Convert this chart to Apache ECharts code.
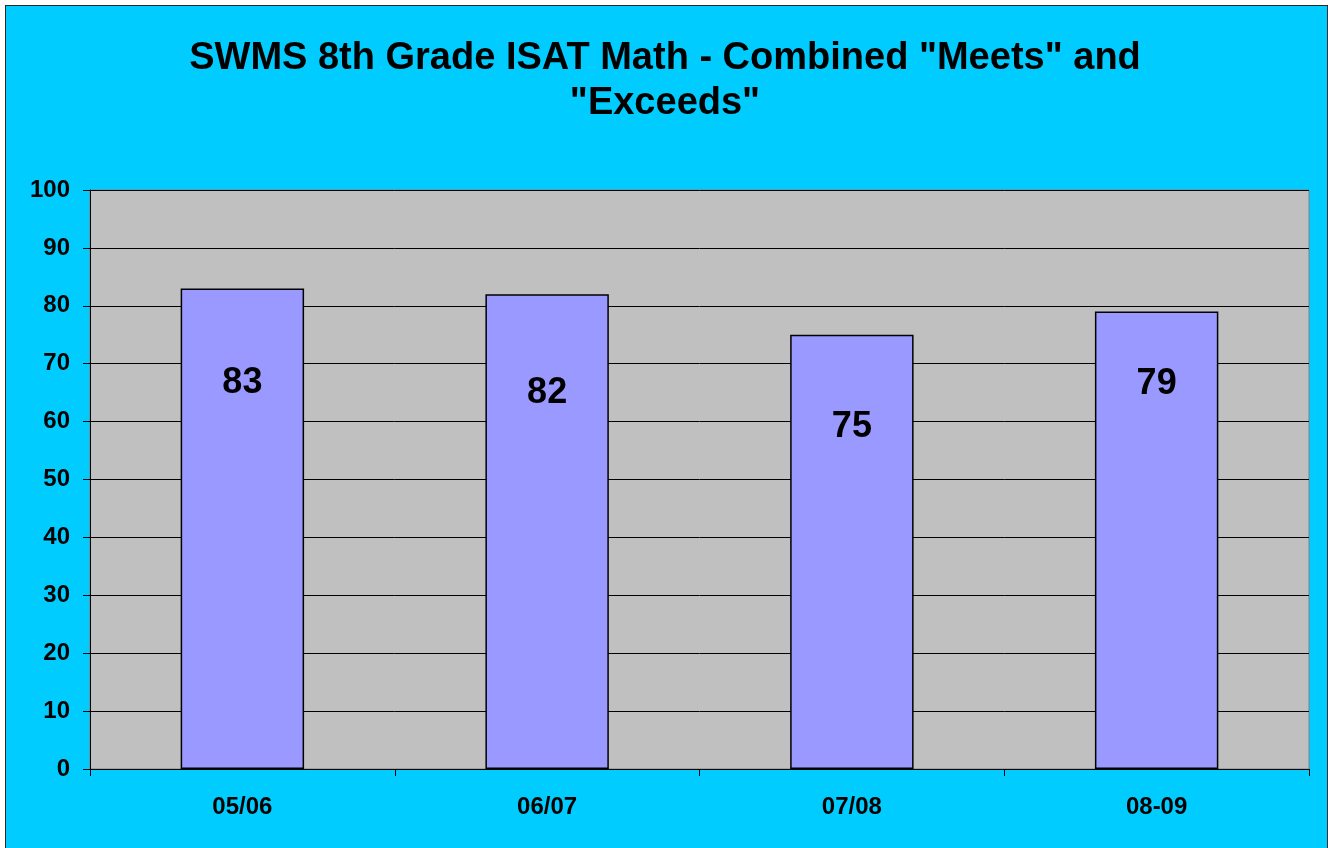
<!DOCTYPE html>
<html>
<head>
<meta charset="utf-8">
<title>SWMS 8th Grade ISAT Math</title>
<script src="https://cdn.jsdelivr.net/npm/echarts@6/dist/echarts.min.js"></script>
<style>
  html, body { margin: 0; padding: 0; background: #ffffff; }
  #frame {
    position: absolute; left: 5px; top: 5px;
    width: 1323px; height: 843px;
    box-sizing: border-box;
    border: 1px solid #2a2a2a; border-bottom: none;
    background: #00ccff;
  }
  #main { width: 1321px; height: 842px; }
</style>
</head>
<body>
<div id="frame"><div id="main"></div></div>
<script>
// data
var years = ['05/06', '06/07', '07/08', '08-09'];
var meetsExceeds = [83, 82, 75, 79];
var yTicks = [0, 10, 20, 30, 40, 50, 60, 70, 80, 90, 100];
var chartTitle = 'SWMS 8th Grade ISAT Math - Combined "Meets" and\n"Exceeds"';

// label drop from bar top (px), the labels sit a bit unevenly in the original
var labelDrop = [77, 81, 74, 54];

var FONT = "'Liberation Sans', Arial, sans-serif";

var chart = echarts.init(document.getElementById('main'));

chart.setOption({
    backgroundColor: '#00ccff',
    animation: false,
    // title drawn as graphic so both lines center on the same x
    graphic: [{
        type: 'text',
        x: 659,
        y: 30,
        style: {
            text: chartTitle,
            align: 'center',
            verticalAlign: 'top',
            font: 'bold 38px ' + FONT,
            lineHeight: 45,
            fill: '#000'
        }
    }],
    grid: {
        left: 84,
        right: 18,
        top: 184,
        bottom: 79,
        show: true,
        backgroundColor: '#c0c0c0',
        borderColor: '#808080',
        borderWidth: 1
    },
    xAxis: {
        type: 'category',
        data: years,
        axisLine: { lineStyle: { color: '#000', width: 1 } },
        axisTick: { show: true, length: 7, lineStyle: { color: '#000' } },
        axisLabel: {
            fontFamily: FONT,
            fontSize: 24,
            fontWeight: 'bold',
            color: '#000',
            margin: 26
        }
    },
    yAxis: {
        type: 'value',
        min: yTicks[0],
        max: yTicks[yTicks.length - 1],
        interval: 10,
        axisLine: { show: true, lineStyle: { color: '#000', width: 1 } },
        axisTick: { show: true, length: 7, lineStyle: { color: '#000' } },
        splitLine: { lineStyle: { color: '#000', width: 1 } },
        axisLabel: {
            fontFamily: FONT,
            fontSize: 24,
            fontWeight: 'bold',
            color: '#000',
            margin: 20
        }
    },
    series: [{
        type: 'bar',
        barWidth: '40.5%',
        data: meetsExceeds.map(function (v, i) {
            return {
                value: v,
                label: { distance: labelDrop[i] }
            };
        }),
        itemStyle: {
            color: '#9999ff',
            borderColor: '#000',
            borderWidth: 1.5
        },
        label: {
            show: true,
            position: 'insideTop',
            fontFamily: FONT,
            fontSize: 36,
            fontWeight: 'bold',
            color: '#000'
        }
    }]
});
</script>
</body>
</html>
